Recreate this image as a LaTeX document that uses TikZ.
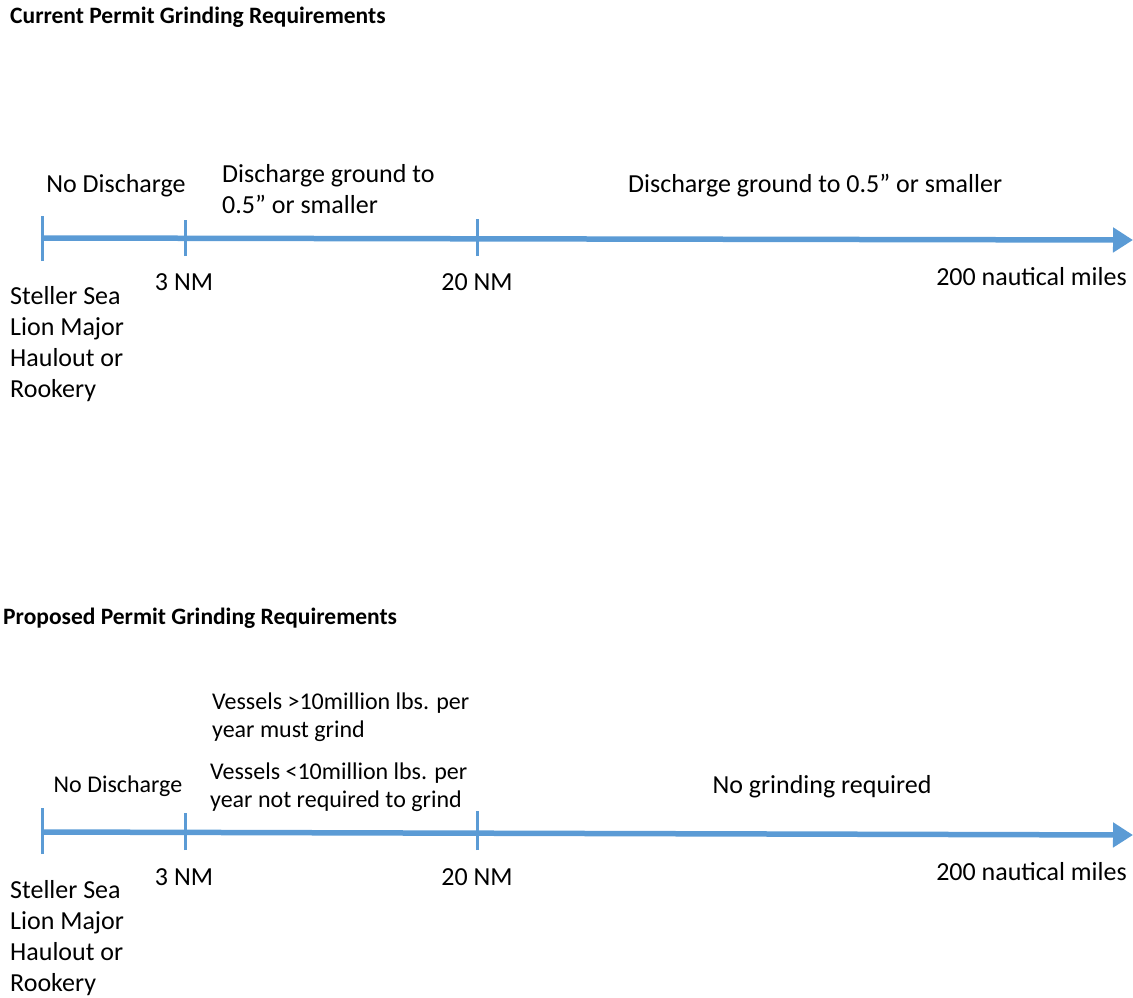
\documentclass[tikz,border=0pt]{standalone}
\usepackage{fontspec}
\setmainfont{Carlito}
\usetikzlibrary{arrows.meta}
\definecolor{axisblue}{RGB}{91,155,213}

\begin{document}
\begin{tikzpicture}[x=1pt, y=-1pt,
  axis/.style={draw=axisblue, line width=5.5pt},
  tick/.style={draw=axisblue, line width=3pt},
  lbl/.style={inner sep=0pt, font=\fontsize{26}{30.8}\selectfont, align=left},
  slbl/.style={inner sep=0pt, font=\fontsize{24}{28}\selectfont, align=left},
  sea/.style={lbl, anchor=north west, font=\fontsize{26}{31.2}\selectfont},
  ttl/.style={inner sep=0pt, font=\fontsize{23.5}{26}\selectfont\bfseries, anchor=west}]
  \useasboundingbox (0,0) rectangle (1133,998);
  % current permit
  \node[ttl] (t1) at (10,17) {Current Permit Grinding Requirements};
  \coordinate (a0) at (42,238);
  \coordinate (a3) at (185,238);
  \coordinate (a20) at (477,238);
  \coordinate (aend) at (1133,240);
  \path[axis, -{Triangle[width=24pt,length=20pt]}] (a0) -- (aend);
  \path[tick] ([yshift=-23pt]a0) -- ([yshift=22pt]a0);
  \path[tick] ([yshift=-18pt]a3) -- ([yshift=18pt]a3);
  \path[tick] ([yshift=-18pt]a20) -- ([yshift=19pt]a20);
  \node[lbl] (nd1) at (116,186) {No Discharge};
  \node[lbl, anchor=west] (dg1) at (222,189) {Discharge ground to\\0.5” or smaller};
  \node[lbl, anchor=west] (dg2) at (628,186) {Discharge ground to 0.5” or smaller};
  \node[lbl] (nm3a) at (184,282) {3 NM};
  \node[lbl] (nm20a) at (477,282) {20 NM};
  \node[lbl, anchor=east] (nm200a) at (1127,277) {200 nautical miles};
  \node[sea] (ssl1) at (10,286) {Steller Sea\\Lion Major\\Haulout or\\Rookery};
  % proposed permit
  \node[ttl] (t2) at (3,618) {Proposed Permit Grinding Requirements};
  \coordinate (b0) at (42,832);
  \coordinate (b3) at (185,832);
  \coordinate (b20) at (477,832);
  \coordinate (bend) at (1133,835);
  \path[axis, -{Triangle[width=24pt,length=20pt]}] (b0) -- (bend);
  \path[tick] ([yshift=-22pt]b0) -- ([yshift=24pt]b0);
  \path[tick] ([yshift=-18pt]b3) -- ([yshift=19pt]b3);
  \path[tick] ([yshift=-18pt]b20) -- ([yshift=21pt]b20);
  \node[slbl] (nd2) at (118,786) {No Discharge};
  \node[slbl, anchor=west] (big) at (212,717) {Vessels >10million lbs. per\\year must grind};
  \node[slbl, anchor=west] (small) at (210,787) {Vessels <10million lbs. per\\year not required to grind};
  \node[lbl] (ng) at (822,787) {No grinding required};
  \node[lbl] (nm3b) at (184,877) {3 NM};
  \node[lbl] (nm20b) at (477,877) {20 NM};
  \node[lbl, anchor=east] (nm200b) at (1127,872) {200 nautical miles};
  \node[sea] (ssl2) at (10,880) {Steller Sea\\Lion Major\\Haulout or\\Rookery};
\end{tikzpicture}
\end{document}
